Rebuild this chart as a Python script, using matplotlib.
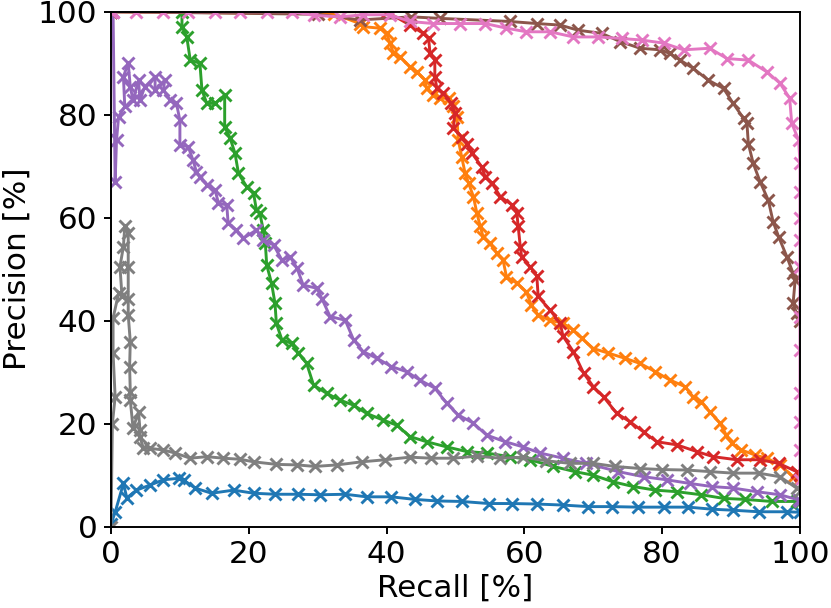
import matplotlib
matplotlib.use("Agg")
import matplotlib.pyplot as plt

# ---------------- data (recall %, precision %) ----------------
blue_x = [0, 0.6, 1.8, 2.3, 3.7, 5.7, 7.6, 9.8, 10.6, 12.2, 14.6, 17.8, 20.7, 23.8, 27.2, 30.3,
          34.0, 37.1, 40.7, 44.1, 47.3, 50.9, 54.8, 58.2, 61.8, 65.6, 69.3, 72.7, 76.5, 80.2,
          83.8, 87.2, 90.3, 94.0, 98.1, 100]
blue_y = [0.5, 2.8, 8.4, 5.6, 7.1, 8.1, 9.1, 9.4, 9.0, 7.5, 6.5, 7.1, 6.5, 6.3, 6.3, 6.2,
          6.3, 5.8, 5.8, 5.3, 5.0, 4.9, 4.5, 4.5, 4.4, 4.2, 3.9, 3.9, 3.8, 3.8,
          3.8, 3.4, 3.2, 2.9, 2.9, 2.8]

orange_x = [0, 32.3, 36.1, 36.6, 39.0, 40.0, 40.5, 41.0, 41.9, 43.4, 44.4, 45.6, 45.8, 46.8,
            47.8, 49.0, 49.7, 50.2, 50.4, 50.9, 51.4, 51.9, 52.6, 53.1, 53.6, 54.0, 55.0,
            56.0, 56.9, 57.4, 58.9, 60.3, 61.0, 62.0, 63.7, 65.6, 67.1, 68.3, 70.0, 72.2,
            74.6, 76.8, 79.0, 81.1, 83.3, 84.5, 85.7, 86.9, 88.4, 89.3, 90.1, 91.5, 93.5,
            95.2, 97.1, 99.0, 100]
orange_y = [100, 99.6, 97.7, 97.1, 96.8, 95.8, 93.9, 91.9, 91.3, 89.3, 88.3, 86.7, 85.1, 83.8,
            83.2, 83.2, 81.6, 79.6, 75.1, 71.8, 68.6, 66.7, 64.1, 60.9, 58.3, 56.3, 55.0,
            53.1, 51.8, 48.5, 47.3, 45.6, 43.0, 41.1, 40.1, 39.5, 38.2, 36.6, 34.6, 33.7,
            32.7, 31.7, 30.1, 28.5, 27.2, 25.2, 24.3, 22.3, 20.1, 17.8, 16.2, 14.9, 13.9,
            13.3, 12.0, 9.7, 9.3]

green_x = [0, 10.3, 10.3, 11.0, 11.5, 12.9, 13.2, 13.9, 15.1, 16.5, 16.5, 17.3, 18.0, 18.5,
           19.7, 20.7, 21.1, 21.6, 22.1, 22.4, 22.6, 23.3, 23.8, 24.0, 24.8, 26.2, 27.2,
           28.4, 29.4, 31.3, 33.2, 35.2, 37.1, 39.5, 41.5, 43.4, 45.8, 48.7, 51.6, 54.5,
           57.9, 60.8, 64.2, 67.3, 70.0, 72.9, 75.8, 79.0, 82.1, 85.7, 88.9, 92.0, 95.9,
           99.5, 100]
green_y = [100, 100, 97.1, 95.1, 90.6, 90.0, 84.8, 82.2, 82.2, 83.8, 77.7, 75.4, 72.5, 68.6,
           66.0, 64.7, 61.5, 60.9, 57.6, 55.0, 50.8, 47.3, 43.4, 39.5, 36.3, 35.6, 33.7,
           31.7, 27.5, 25.9, 24.6, 23.6, 22.0, 20.7, 19.7, 17.5, 16.5, 15.5, 14.6, 14.3,
           13.6, 13.0, 11.7, 10.7, 10.0, 8.7, 7.8, 7.1, 6.8, 6.2, 5.5, 5.3, 4.9,
           4.9, 4.8]

red_x = [0, 40.0, 43.4, 45.3, 46.1, 46.3, 47.0, 47.0, 47.3, 48.2, 49.4, 49.9, 49.7, 50.9,
         51.6, 52.4, 53.8, 54.3, 55.3, 56.5, 58.2, 58.9, 59.1, 59.4, 59.6, 60.8, 61.8, 62.0,
         63.7, 65.2, 65.6, 67.1, 68.6, 70.0, 71.5, 73.4, 75.3, 77.3, 79.2, 82.1, 85.0, 87.4,
         90.8, 94.2, 96.9, 99.5, 100]
red_y = [100, 100, 97.4, 95.8, 94.8, 91.9, 90.6, 87.4, 85.1, 84.2, 82.2, 80.3, 77.4, 75.7,
         74.4, 72.5, 69.9, 68.0, 66.7, 64.1, 62.5, 60.9, 58.3, 54.4, 52.4, 50.5, 48.7, 44.7,
         42.1, 39.5, 37.0, 34.0, 29.8, 27.2, 25.2, 22.0, 20.4, 18.4, 16.5, 15.9, 14.6, 13.6,
         13.0, 13.0, 12.3, 10.7, 10.0]

purple_x = [0.3, 0.6, 0.8, 1.1, 2.0, 1.8, 2.5, 2.8, 3.2, 4.0, 4.2, 4.9, 6.4, 6.4, 7.8, 7.6,
            8.6, 9.5, 10.0, 10.0, 11.2, 11.9, 12.4, 12.9, 13.9, 15.1, 15.6, 16.8, 17.0, 18.2,
            19.2, 21.1, 22.1, 23.6, 24.8, 26.0, 27.0, 27.9, 29.9, 30.6, 31.8, 34.0, 35.2,
            36.6, 38.6, 40.7, 42.9, 44.8, 47.0, 48.7, 50.4, 52.6, 54.5, 57.2, 59.8, 62.3,
            65.6, 69.0, 73.6, 77.3, 80.7, 84.0, 87.2, 90.3, 93.7, 97.1, 99.8, 100]
purple_y = [100, 67.0, 75.0, 79.6, 81.6, 87.4, 90.0, 85.4, 82.8, 86.7, 82.8, 85.4, 87.4, 84.8,
            86.7, 84.8, 82.8, 82.2, 78.9, 74.1, 73.8, 71.2, 68.9, 68.0, 66.4, 65.4, 62.8,
            62.5, 58.9, 57.6, 56.0, 57.6, 55.7, 54.7, 51.8, 52.4, 50.2, 46.9, 46.3, 44.3,
            40.8, 40.1, 36.3, 34.0, 32.7, 31.1, 30.1, 28.5, 26.9, 24.0, 21.7, 20.1, 17.8,
            16.5, 15.5, 14.3, 13.3, 12.3, 10.7, 9.7, 9.1, 8.4, 7.8, 7.5, 6.8, 6.2, 5.2, 5.0]

brown_x = [0, 30.0, 36.1, 43.6, 47.8, 57.9, 61.8, 65.2, 67.8, 71.2, 73.9, 76.8, 79.7, 81.1,
           82.6, 84.5, 86.7, 88.9, 90.3, 91.8, 92.3, 92.5, 93.2, 94.2, 95.4, 96.1, 96.9, 98.1,
           99.0, 99.3, 99.0, 99.5, 100]
brown_y = [100, 99.5, 98.4, 99.0, 98.7, 98.1, 97.7, 97.4, 96.4, 95.8, 94.2, 92.9, 92.6, 91.9,
           90.6, 89.0, 86.7, 85.1, 82.2, 79.3, 78.3, 74.4, 70.6, 67.0, 63.4, 59.2, 56.3, 52.4,
           49.2, 47.9, 43.4, 41.4, 40.0]

pink_x = [0, 0.3, 3.7, 7.6, 11.2, 15.1, 18.7, 22.6, 26.2, 29.4, 33.2, 36.6, 40.5, 43.4, 46.8,
          50.7, 54.3, 57.4, 60.3, 63.7, 67.1, 70.7, 74.1, 77.0, 80.2, 83.1, 86.9, 89.4, 92.5,
          95.2, 97.1, 98.5, 98.8, 99.8, 100, 100, 100, 100, 100, 100, 100, 100, 100, 100, 100]
pink_y = [100, 100, 100, 100, 100, 100, 100, 100, 100, 99.3, 99.0, 99.4, 99.4, 98.1, 97.7,
          97.7, 97.7, 96.8, 96.1, 96.1, 95.1, 95.1, 94.8, 94.5, 93.9, 92.6, 92.9, 90.9, 90.6,
          88.3, 86.1, 83.2, 78.3, 75.1, 70.6, 65.0, 59.9, 55.6, 50.4, 40.7, 34.3, 25.9, 20.3,
          14.9, 9.0]

gray_x = [0, 0.2, 0.6, 0.3, 0.3, 1.1, 1.6, 1.3, 1.8, 2.0, 2.5, 2.5, 2.5, 2.5, 2.8, 2.7, 2.8,
          2.8, 3.2, 4.0, 4.2, 4.2, 4.7, 5.7, 7.6, 9.3, 11.5, 13.9, 16.3, 18.7, 20.7, 24.0,
          27.0, 29.6, 32.8, 36.4, 39.8, 43.4, 46.5, 49.7, 53.1, 56.5, 59.8, 63.2, 66.6, 70.0,
          73.1, 76.8, 79.9, 83.6, 86.9, 90.3, 94.0, 97.1, 99.5, 100]
gray_y = [0, 20.0, 25.2, 33.7, 40.5, 45.3, 44.7, 50.5, 54.4, 58.3, 57.0, 50.5, 44.3, 41.1,
          35.9, 31.1, 26.2, 24.6, 19.1, 22.3, 18.8, 17.5, 15.2, 15.2, 14.9, 14.3, 13.3, 13.6,
          13.3, 13.1, 12.6, 12.1, 12.0, 11.7, 12.0, 12.6, 13.0, 13.5, 13.3, 13.3, 13.7, 13.3,
          13.5, 12.8, 12.3, 12.3, 11.7, 11.3, 11.1, 11.0, 10.7, 10.4, 10.4, 9.7, 7.5, 7.0]

series = [
    (blue_x, blue_y, "tab:blue"),
    (orange_x, orange_y, "tab:orange"),
    (green_x, green_y, "tab:green"),
    (red_x, red_y, "tab:red"),
    (purple_x, purple_y, "tab:purple"),
    (brown_x, brown_y, "tab:brown"),
    (pink_x, pink_y, "tab:pink"),
    (gray_x, gray_y, "tab:gray"),
]

ticks = [0, 20, 40, 60, 80, 100]

# ---------------- figure ----------------
DPI = 140
fig = plt.figure(figsize=(831 / DPI, 608 / DPI), dpi=DPI)
ax = fig.add_axes([111 / 831, 1 - 526.7 / 608, (800 - 111) / 831, (526.7 - 11.7) / 608])

for xs, ys, c in series:
    ax.plot(xs, ys, color=c, marker="x", linewidth=1.5, markersize=6, markeredgewidth=1.5)

ax.set_xlim(0, 100)
ax.set_ylim(0, 100)
ax.set_xticks(ticks)
ax.set_yticks(ticks)
ax.tick_params(labelsize=16, length=3.5, width=1)
ax.set_xlabel("Recall [%]", fontsize=16, labelpad=2)
ax.set_ylabel("Precision [%]", fontsize=16, labelpad=3)
for s in ax.spines.values():
    s.set_linewidth(1.0)

fig.savefig("out.png", dpi=DPI)
